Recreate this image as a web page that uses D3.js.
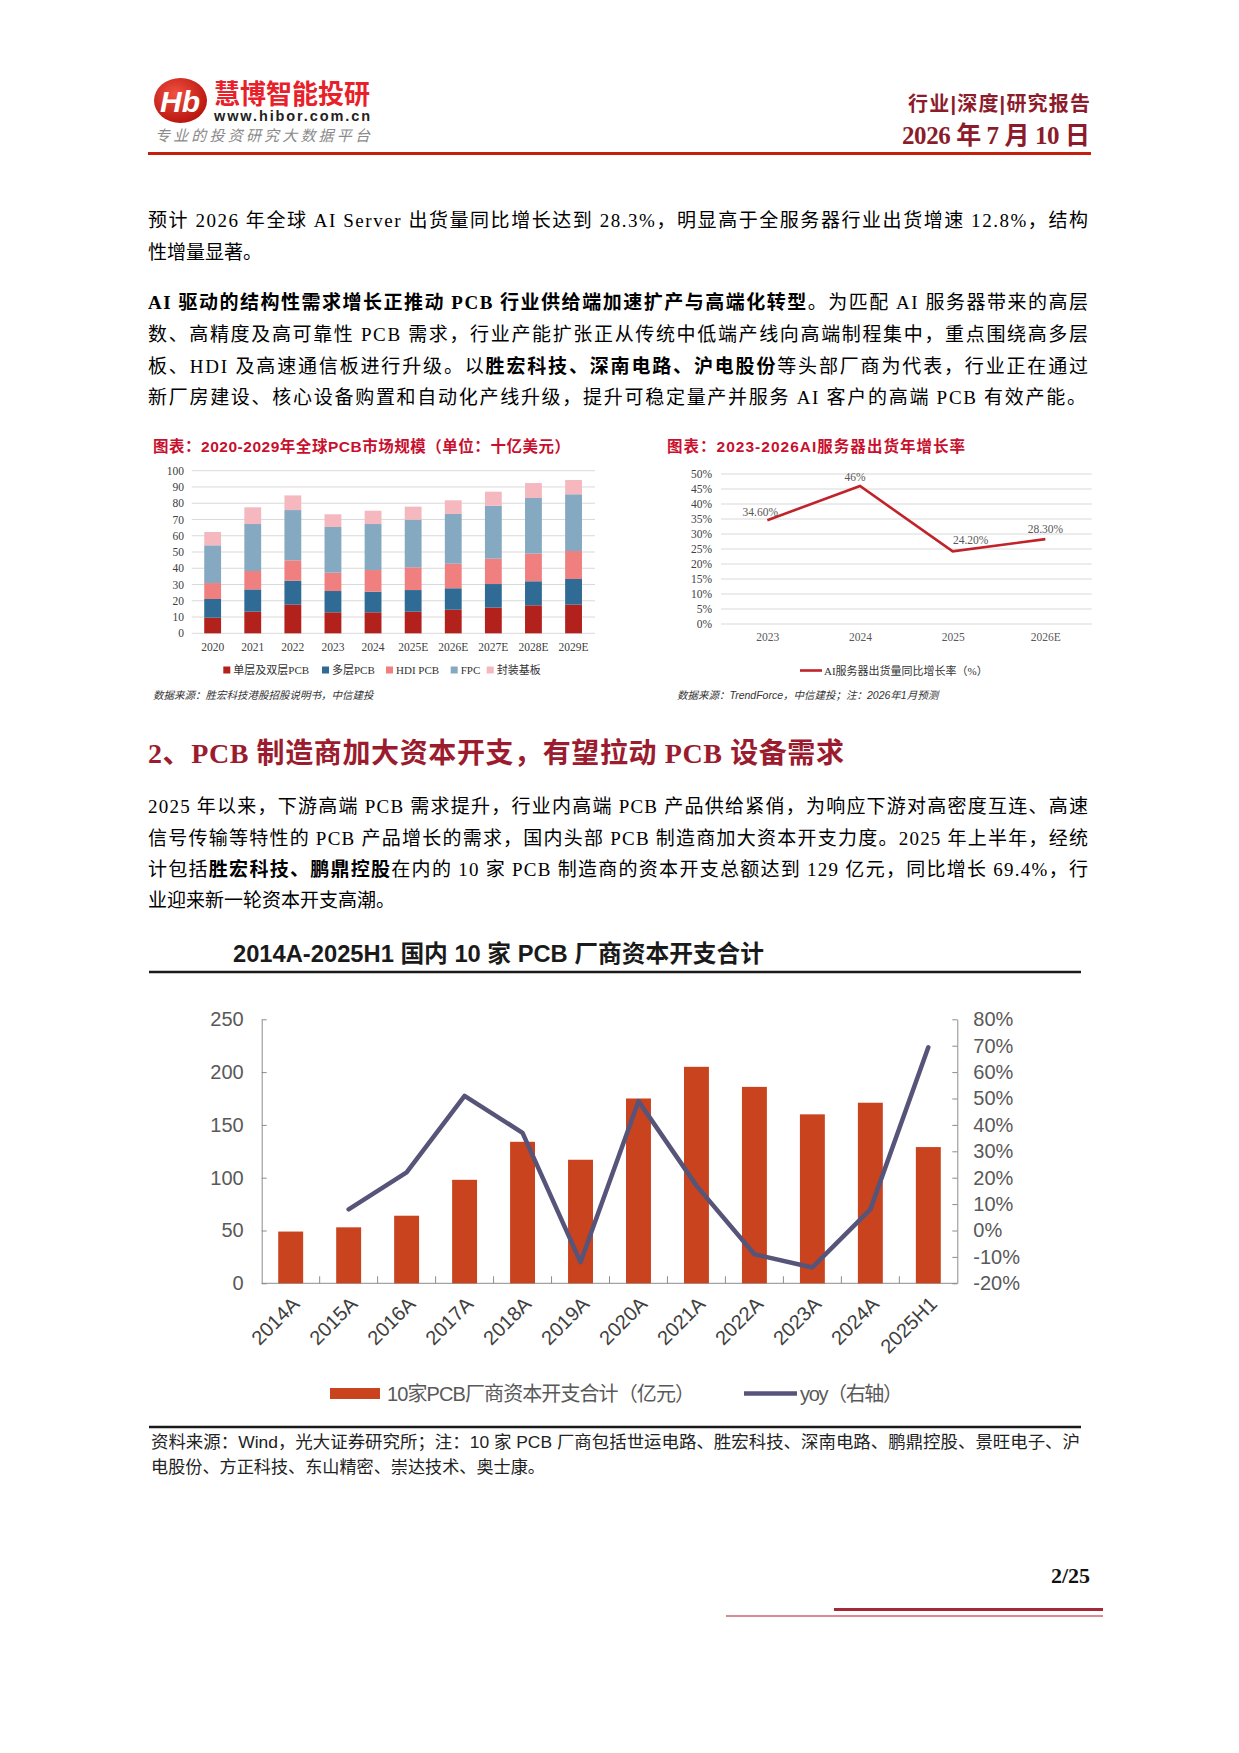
<!DOCTYPE html>
<html lang="zh">
<head>
  <meta charset="UTF-8">
  <title>PCB 资本开支</title>
  <script src="https://cdn.jsdelivr.net/npm/d3@7"></script>
  <style>
    body{ margin:0; background:#fff; }
    .serif{ font-family:'Liberation Serif','Noto Sans CJK SC',serif; }
    .sans{ font-family:'Liberation Sans','Noto Sans CJK SC',sans-serif; }
    .grid line{ stroke:#d9d9d9; }
  </style>
</head>
<body>
<script>
// ---- 数据 ----
const pcbYears = ['2020','2021','2022','2023','2024','2025E','2026E','2027E','2028E','2029E'];
const singleDouble = [9.6, 13.3, 17.6, 12.9, 12.9, 13.3, 14.5, 15.8, 17.2, 17.6];
const multiLayer   = [11.5, 13.7, 14.8, 13.1, 12.7, 13.3, 13.2, 14.5, 14.8, 15.8];
const hdiPcb       = [9.8, 11.3, 12.5, 11.3, 13.3, 14.0, 15.1, 15.6, 17.0, 17.2];
const fpc          = [23.2, 28.9, 30.9, 28.1, 28.3, 29.3, 30.6, 32.6, 34.2, 34.9];
const substrate    = [8.2, 10.3, 9.0, 7.8, 8.2, 8.0, 8.4, 8.6, 9.2, 8.8];
const pcbSeries = ['单层及双层PCB','多层PCB','HDI PCB','FPC','封装基板'];
const pcbTicks = [0,10,20,30,40,50,60,70,80,90,100];

const aiYears = ['2023','2024','2025','2026E'];
const aiGrowth = [0.346, 0.46, 0.242, 0.283];
const aiLabels = ['34.60%','46%','24.20%','28.30%'];
const aiTicks = [0,0.05,0.1,0.15,0.2,0.25,0.3,0.35,0.4,0.45,0.5];

const capYears = ['2014A','2015A','2016A','2017A','2018A','2019A','2020A','2021A','2022A','2023A','2024A','2025H1'];
const capex = [49, 53, 64, 98, 134, 117, 175, 205, 186, 160, 171, 129];
const yoy = [null, 0.08, 0.22, 0.51, 0.37, -0.12, 0.49, 0.17, -0.09, -0.14, 0.08, 0.694];
const capLeftTicks = [0,50,100,150,200,250];
const capRightTicks = [-0.2,-0.1,0,0.1,0.2,0.3,0.4,0.5,0.6,0.7,0.8];

const W = 1239, H = 1753;
const svg = d3.select('body').append('svg').attr('width', W).attr('height', H);
svg.append('rect').attr('width', W).attr('height', H).attr('fill', '#fff');

// 百分比格式，负号用普通连字符
const pct = d => Math.round(d * 100) + '%';

// ---- 页眉 ----
function renderHeader(){
  const g = svg.append('g');
  const grad = svg.append('defs').append('radialGradient').attr('id','logoGrad')
    .attr('cx','40%').attr('cy','35%').attr('r','70%');
  grad.append('stop').attr('offset','0%').attr('stop-color','#f2503f');
  grad.append('stop').attr('offset','100%').attr('stop-color','#b4120c');
  g.append('ellipse').attr('cx',180.5).attr('cy',100.5).attr('rx',26.5).attr('ry',22.5)
    .attr('fill','url(#logoGrad)');
  g.append('text').attr('class','sans').attr('x',180).attr('y',112)
    .attr('text-anchor','middle').attr('font-size',30).attr('font-weight','bold')
    .attr('font-style','italic').attr('fill','#fff').text('Hb');
  g.append('text').attr('class','sans').attr('x',214).attr('y',104)
    .attr('font-size',27).attr('font-weight','bold').attr('fill','#e8202a')
    .attr('textLength',156).attr('lengthAdjust','spacingAndGlyphs').text('慧博智能投研');
  g.append('text').attr('class','sans').attr('x',214).attr('y',121)
    .attr('font-size',14.5).attr('font-weight','bold').attr('fill','#222')
    .attr('textLength',156).text('www.hibor.com.cn');
  g.append('text').attr('class','sans').attr('x',155).attr('y',141)
    .attr('font-size',15).attr('font-style','italic').attr('fill','#8a8a8a')
    .attr('textLength',215).text('专业的投资研究大数据平台');
  g.append('text').attr('class','sans').attr('x',1090).attr('y',111)
    .attr('text-anchor','end').attr('font-size',20).attr('font-weight','bold').attr('fill','#8c1c2c')
    .attr('textLength',182).text('行业|深度|研究报告');
  g.append('text').attr('class','serif').attr('x',1090).attr('y',144)
    .attr('text-anchor','end').attr('font-size',25).attr('font-weight','bold').attr('fill','#8c1c2c')
    .attr('textLength',188).text('2026 年 7 月 10 日');
  g.append('line').attr('x1',148).attr('x2',1091).attr('y1',153.5).attr('y2',153.5)
    .attr('stroke','#c21f0e').attr('stroke-width',3);
}

// ---- 正文 ----
function textLine(y, parts, justify, extra){
  const t = svg.append('text').attr('class','serif').attr('x',148).attr('y',y)
    .attr('font-size', (extra && extra.size) || 19).attr('fill', (extra && extra.fill) || '#000');
  if (justify) t.attr('textLength', justify).attr('lengthAdjust','spacing');
  parts.forEach(p => {
    const s = typeof p === 'string' ? {t:p} : p;
    t.append('tspan').attr('font-weight', s.b ? 'bold' : 'normal').text(s.t);
  });
  return t;
}
function renderText(){
  const full = 940;
  textLine(227, ['预计 2026 年全球 AI Server 出货量同比增长达到 28.3%，明显高于全服务器行业出货增速 12.8%，结构'], full);
  textLine(259, ['性增量显著。'], 0);
  textLine(309, [{t:'AI 驱动的结构性需求增长正推动 PCB 行业供给端加速扩产与高端化转型', b:true}, '。为匹配 AI 服务器带来的高层'], full);
  textLine(341, ['数、高精度及高可靠性 PCB 需求，行业产能扩张正从传统中低端产线向高端制程集中，重点围绕高多层'], full);
  textLine(373, ['板、HDI 及高速通信板进行升级。以', {t:'胜宏科技、深南电路、沪电股份', b:true}, '等头部厂商为代表，行业正在通过'], full);
  textLine(404, ['新厂房建设、核心设备购置和自动化产线升级，提升可稳定量产并服务 AI 客户的高端 PCB 有效产能。'], 938);

  textLine(763, [{t:'2、PCB 制造商加大资本开支，有望拉动 PCB 设备需求', b:true}], 696, {size:28, fill:'#9a1c2e'});

  textLine(813, ['2025 年以来，下游高端 PCB 需求提升，行业内高端 PCB 产品供给紧俏，为响应下游对高密度互连、高速'], full);
  textLine(845, ['信号传输等特性的 PCB 产品增长的需求，国内头部 PCB 制造商加大资本开支力度。2025 年上半年，经统'], full);
  textLine(876, ['计包括', {t:'胜宏科技、鹏鼎控股', b:true}, '在内的 10 家 PCB 制造商的资本开支总额达到 129 亿元，同比增长 69.4%，行'], full);
  textLine(907, ['业迎来新一轮资本开支高潮。'], 0);
}

// ---- 图1：全球PCB市场规模 ----
function renderPcb(){
  const g = svg.append('g');
  g.append('text').attr('class','sans').attr('x',153).attr('y',452)
    .attr('font-size',15.5).attr('font-weight','bold').attr('fill','#c8102e')
    .attr('textLength',417).text('图表：2020-2029年全球PCB市场规模（单位：十亿美元）');

  const x = d3.scaleBand().domain(pcbYears).range([192.6, 593.6]).paddingInner(0.58).paddingOuter(0.29);
  const y = d3.scaleLinear().domain([0,100]).range([633.3, 470.7]);

  g.append('g').attr('class','grid').selectAll('line').data(pcbTicks).join('line')
    .attr('x1',191.7).attr('x2',595).attr('y1',d => y(d)).attr('y2',d => y(d));

  const yAxis = d3.axisLeft(y).tickValues(pcbTicks).tickSize(0).tickPadding(0);
  g.append('g').attr('class','serif').attr('transform','translate(184,0)').call(yAxis)
    .call(a => a.select('.domain').remove())
    .call(a => a.selectAll('text').attr('font-size',11.5).attr('fill','#404040').attr('font-family',null));

  const xAxis = d3.axisBottom(x).tickSize(0).tickPadding(0);
  g.append('g').attr('class','serif').attr('transform','translate(0,643)').call(xAxis)
    .call(a => a.select('.domain').remove())
    .call(a => a.selectAll('text').attr('font-size',11.5).attr('fill','#404040').attr('font-family',null));

  const rows = pcbYears.map((yr, i) => ({year: yr, s0: singleDouble[i], s1: multiLayer[i], s2: hdiPcb[i], s3: fpc[i], s4: substrate[i]}));
  const stack = d3.stack().keys(['s0','s1','s2','s3','s4'])(rows);
  const colors = ['#b3211d','#2f6b95','#f08080','#86a9c2','#f5b8bf'];
  g.selectAll('g.layer').data(stack).join('g').attr('class','layer').attr('fill',(d,i) => colors[i])
    .selectAll('rect').data(d => d).join('rect')
    .attr('x', d => x(d.data.year)).attr('width', x.bandwidth())
    .attr('y', d => y(d[1])).attr('height', d => y(d[0]) - y(d[1]));

  const legX = [223.3, 322, 386, 450.7, 486.7];
  const leg = g.selectAll('g.leg').data(pcbSeries).join('g').attr('class','leg')
    .attr('transform',(d,i) => `translate(${legX[i]},670)`);
  leg.append('rect').attr('x',0).attr('y',-3.5).attr('width',7).attr('height',7).attr('fill',(d,i) => colors[i]);
  leg.append('text').attr('class','serif').attr('x',10).attr('y',4).attr('font-size',11).attr('fill','#333').text(d => d);

  g.append('text').attr('class','sans').attr('x',153).attr('y',699).attr('font-size',10.5)
    .attr('font-style','italic').attr('fill','#333').text('数据来源：胜宏科技港股招股说明书，中信建投');
}

// ---- 图2：AI服务器出货增长率 ----
function renderAi(){
  const g = svg.append('g');
  g.append('text').attr('class','sans').attr('x',667).attr('y',452)
    .attr('font-size',15.5).attr('font-weight','bold').attr('fill','#c8102e')
    .attr('textLength',298).text('图表：2023-2026AI服务器出货年增长率');

  const x = d3.scalePoint().domain(aiYears).range([721, 1091.7]).padding(0.5);
  const y = d3.scaleLinear().domain([0,0.5]).range([624, 474]);

  g.append('g').attr('class','grid').selectAll('line').data(aiTicks).join('line')
    .attr('x1',721).attr('x2',1091.7).attr('y1',d => y(d)).attr('y2',d => y(d));

  const yAxis = d3.axisLeft(y).tickValues(aiTicks).tickFormat(pct).tickSize(0).tickPadding(0);
  g.append('g').attr('transform','translate(712,0)').call(yAxis)
    .call(a => a.select('.domain').remove())
    .call(a => a.selectAll('text').attr('class','serif').attr('font-size',11.5).attr('fill','#404040').attr('font-family',null));

  const xAxis = d3.axisBottom(x).tickSize(0).tickPadding(0);
  g.append('g').attr('transform','translate(0,633)').call(xAxis)
    .call(a => a.select('.domain').remove())
    .call(a => a.selectAll('text').attr('class','serif').attr('font-size',11.5).attr('fill','#595959').attr('font-family',null));

  const line = d3.line().x((d,i) => x(aiYears[i])).y(d => y(d));
  g.append('path').datum(aiGrowth).attr('d', line).attr('fill','none')
    .attr('stroke','#c0232a').attr('stroke-width',2.6).attr('stroke-linejoin','miter');

  const off = [[-7,-4],[-5,-5],[18,-7],[0,-6]];
  g.selectAll('text.lbl').data(aiGrowth).join('text').attr('class','serif lbl')
    .attr('x',(d,i) => x(aiYears[i]) + off[i][0]).attr('y',(d,i) => y(d) + off[i][1])
    .attr('text-anchor','middle').attr('font-size',11.5).attr('fill','#595959')
    .text((d,i) => aiLabels[i]);

  g.append('line').attr('x1',800).attr('x2',822).attr('y1',670.5).attr('y2',670.5)
    .attr('stroke','#c0232a').attr('stroke-width',2.6);
  g.append('text').attr('class','serif').attr('x',824).attr('y',674.5).attr('font-size',11)
    .attr('fill','#333').text('AI服务器出货量同比增长率（%）');
  g.append('text').attr('class','sans').attr('x',677).attr('y',699).attr('font-size',10.5)
    .attr('font-style','italic').attr('fill','#333').text('数据来源：TrendForce，中信建投；注：2026年1月预测');
}

// ---- 图3：10家PCB厂商资本开支 ----
function renderCapex(){
  const g = svg.append('g');
  g.append('text').attr('class','sans').attr('x',233).attr('y',962)
    .attr('font-size',24).attr('font-weight','bold').attr('fill','#1a1a1a')
    .attr('textLength',531).attr('lengthAdjust','spacingAndGlyphs')
    .text('2014A-2025H1 国内 10 家 PCB 厂商资本开支合计');
  g.append('line').attr('x1',149).attr('x2',1081).attr('y1',972).attr('y2',972)
    .attr('stroke','#1a1a1a').attr('stroke-width',2.5);

  const left = 261.7, right = 957.3, base = 1283.3, top = 1019.3;
  const x = d3.scaleBand().domain(capYears).range([left, right]).paddingInner(0.57).paddingOuter(0.285);
  const yL = d3.scaleLinear().domain([0,250]).range([base, top]);
  const yR = d3.scaleLinear().domain([-0.2,0.8]).range([base, top]);

  const axisStyle = a => {
    a.select('.domain').attr('stroke','#8c8c8c');
    a.selectAll('.tick line').attr('stroke','#8c8c8c');
    a.selectAll('text').attr('font-family',"'Liberation Sans','Noto Sans CJK SC',sans-serif")
      .attr('font-size',20).attr('fill','#595959');
  };
  g.append('g').attr('transform',`translate(${left},0)`)
    .call(d3.axisLeft(yL).tickValues(capLeftTicks).tickSize(-5).tickSizeOuter(0).tickPadding(18))
    .call(axisStyle);
  g.append('g').attr('transform',`translate(${right},0)`)
    .call(d3.axisRight(yR).tickValues(capRightTicks).tickFormat(pct).tickSize(-5).tickSizeOuter(0).tickPadding(16))
    .call(axisStyle);

  // 横轴：基线 + 分类边界刻度
  g.append('line').attr('x1',left).attr('x2',right).attr('y1',base).attr('y2',base)
    .attr('stroke','#8c8c8c');
  g.selectAll('line.xt').data(capYears.slice(1)).join('line').attr('class','xt')
    .attr('x1',d => x(d) - x.step()*x.paddingInner()/2).attr('x2',d => x(d) - x.step()*x.paddingInner()/2)
    .attr('y1',base).attr('y2',base - 7).attr('stroke','#8c8c8c');

  g.selectAll('rect.bar').data(capex).join('rect').attr('class','bar')
    .attr('x',(d,i) => x(capYears[i])).attr('width',x.bandwidth())
    .attr('y',d => yL(d)).attr('height',d => base - yL(d)).attr('fill','#c9431f');

  const line = d3.line().defined(d => d !== null)
    .x((d,i) => x(capYears[i]) + x.bandwidth()/2).y(d => yR(d));
  g.append('path').datum(yoy).attr('d',line).attr('fill','none')
    .attr('stroke','#57547a').attr('stroke-width',4.5)
    .attr('stroke-linejoin','round').attr('stroke-linecap','round');

  g.selectAll('text.xl').data(capYears).join('text').attr('class','sans xl')
    .attr('transform',d => `translate(${x(d) + x.bandwidth()/2 + 5},${base + 17}) rotate(-45)`)
    .attr('text-anchor','end').attr('dy','0.35em')
    .attr('font-size',20).attr('fill','#404040').text(d => d);

  // 图例
  g.append('rect').attr('x',330).attr('y',1388).attr('width',50).attr('height',11).attr('fill','#c9431f');
  g.append('text').attr('class','sans').attr('x',387).attr('y',1401).attr('font-size',20)
    .attr('fill','#595959').attr('textLength',308).text('10家PCB厂商资本开支合计（亿元）');
  g.append('line').attr('x1',744).attr('x2',797).attr('y1',1393.5).attr('y2',1393.5)
    .attr('stroke','#57547a').attr('stroke-width',4.5);
  g.append('text').attr('class','sans').attr('x',800).attr('y',1401).attr('font-size',20)
    .attr('fill','#595959').attr('textLength',103).text('yoy（右轴）');

  g.append('line').attr('x1',149).attr('x2',1081).attr('y1',1427).attr('y2',1427)
    .attr('stroke','#1a1a1a').attr('stroke-width',2.5);
  g.append('text').attr('class','sans').attr('x',151).attr('y',1448).attr('font-size',17)
    .attr('fill','#222').attr('textLength',929).attr('lengthAdjust','spacingAndGlyphs')
    .text('资料来源：Wind，光大证券研究所；注：10 家 PCB 厂商包括世运电路、胜宏科技、深南电路、鹏鼎控股、景旺电子、沪');
  g.append('text').attr('class','sans').attr('x',151).attr('y',1473).attr('font-size',17)
    .attr('fill','#222').attr('textLength',394).attr('lengthAdjust','spacingAndGlyphs')
    .text('电股份、方正科技、东山精密、崇达技术、奥士康。');
}

// ---- 页脚 ----
function renderFooter(){
  svg.append('text').attr('class','serif').attr('x',1090).attr('y',1583)
    .attr('text-anchor','end').attr('font-size',22).attr('font-weight','bold').attr('fill','#111').text('2/25');
  svg.append('line').attr('x1',834).attr('x2',1103).attr('y1',1609.5).attr('y2',1609.5)
    .attr('stroke','#a4283a').attr('stroke-width',3);
  svg.append('line').attr('x1',726).attr('x2',1103).attr('y1',1616).attr('y2',1616)
    .attr('stroke','#d98a92').attr('stroke-width',2);
}

renderHeader();
renderText();
renderPcb();
renderAi();
renderCapex();
renderFooter();
</script>
</body>
</html>
